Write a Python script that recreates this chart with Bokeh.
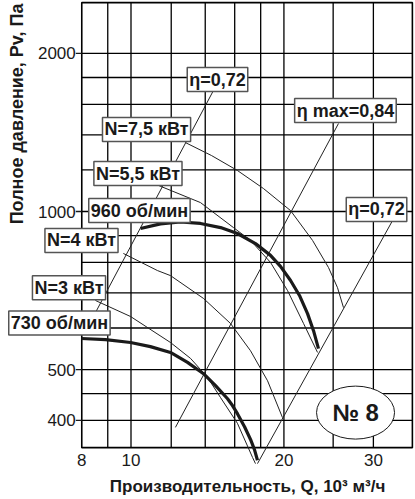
import math
from bokeh.plotting import figure
from bokeh.models import Range1d, Label
from bokeh.core.properties import value
from bokeh.embed import file_html
from bokeh.resources import INLINE

FONT = "Liberation Sans"
INK = "#1a1a1a"

# ---------------- data ----------------
x_ticks = [8, 10, 20, 30]
y_ticks = [400, 500, 1000, 2000]
x_grid = [9, 10, 12, 14, 16, 18, 20, 25, 30]
y_grid = [400, 450, 500, 600, 700, 800, 900, 1000, 1200, 1400, 1600, 1800, 2000]
Q_MIN, Q_MAX = 8, 35.8
P_MIN, P_MAX = 355, 2500

# pressure curves (thick), Q in 10^3 m3/h, P in Pa
q_960 = [10.44, 11.43, 12.51, 13.70, 15.01, 16.20, 17.58, 18.82, 19.69, 20.61,
         21.46, 22.26, 22.87, 23.39]
p_960 = [928, 947, 955, 949, 932, 908, 869, 825, 786, 739, 692, 639, 593, 548]
q_730 = [7.99, 8.91, 9.98, 10.92, 11.96, 12.92, 13.89, 14.67, 15.49, 15.84,
         16.20, 16.73, 17.19, 17.50, 17.74]
p_730 = [573, 570, 563, 553, 539, 516, 491, 466, 440, 427, 412, 389, 368, 352, 336]

# power curves (thin)
q_n75 = [12.80, 14.41, 16.20, 18.23, 20.61, 22.77, 24.48, 25.50, 26.20]
p_n75 = [1353, 1278, 1197, 1106, 1004, 881, 782, 716, 656]
q_n55 = [11.33, 13.70, 15.91, 17.19, 18.82, 20.33, 21.86, 23.29]
p_n55 = [1121, 1040, 932, 881, 800, 707, 612, 539]
q_n4 = [9.66, 11.27, 11.96, 13.89, 15.70, 17.19, 18.57, 19.87]
p_n4 = [832, 772, 755, 683, 612, 543, 476, 405]
q_n3 = [8.51, 9.98, 11.96, 13.10, 14.15, 15.01, 16.20, 17.35, 17.58]
p_n3 = [677, 631, 563, 525, 483, 442, 395, 340, 331]

# efficiency lines
q_eta_left = [8.21, 14.53]
p_eta_left = [601, 1700]
q_eta_max = [12.23, 25.61]
p_eta_max = [388, 1471]
q_eta_right = [17.74, 32.72]
p_eta_right = [331, 961]

label_texts = ["η=0,72", "η max=0,84", "η=0,72", "N=7,5 кВт", "N=5,5 кВт",
               "960 об/мин", "N=4 кВт", "N=3 кВт", "730 об/мин"]
y_title = "Полное давление, Pv, Па"
x_title = "Производительность, Q, 10³ м³/ч"
badge = "№ 8"

# ---------------- figure ----------------
p = figure(width=415, height=499, x_axis_type="log", y_axis_type="log",
           x_axis_location=None, y_axis_location=None,
           x_range=Range1d(5.535, 36.31), y_range=Range1d(282.8, 2523),
           output_backend="svg", toolbar_location=None,
           min_border=0)
p.outline_line_color = None
p.xgrid.visible = False
p.ygrid.visible = False
p.background_fill_color = "white"
p.border_fill_color = "white"

# grid
p.segment(x0=x_grid, y0=[P_MIN] * len(x_grid), x1=x_grid, y1=[P_MAX] * len(x_grid),
          line_color="#000000", line_width=1.3)
p.segment(x0=[Q_MIN] * len(y_grid), y0=y_grid, x1=[Q_MAX] * len(y_grid), y1=y_grid,
          line_color="#000000", line_width=1.3)
# frame
p.quad(left=[Q_MIN], right=[Q_MAX], bottom=[P_MIN], top=[P_MAX],
       fill_color=None, line_color="#000000", line_width=1.6)

# y ticks and tick labels
p.ray(x=[Q_MIN] * len(y_ticks), y=y_ticks, length=6, length_units="screen",
      angle=math.pi, line_color=INK, line_width=1.3)
p.text(x=[Q_MIN] * len(y_ticks), y=y_ticks, text=[str(t) for t in y_ticks],
       x_offset=-6, text_align="right", text_baseline="middle",
       text_font=value(FONT), text_font_size=value("17px"), text_color=INK)
# x tick labels
p.text(x=x_ticks, y=[P_MIN] * len(x_ticks), text=[str(t) for t in x_ticks],
       y_offset=6, text_align="center", text_baseline="top",
       text_font=value(FONT), text_font_size=value("17px"), text_color=INK)

thin = dict(line_color="#222222", line_width=1)
for qs, ps in [(q_n75, p_n75), (q_n55, p_n55), (q_n4, p_n4), (q_n3, p_n3),
               (q_eta_left, p_eta_left), (q_eta_max, p_eta_max),
               (q_eta_right, p_eta_right)]:
    p.line(qs, ps, **thin)

p.line(q_960, p_960, line_color=INK, line_width=3.2, line_join="round")
p.line(q_730, p_730, line_color=INK, line_width=3.2, line_join="round")

p.ellipse(x=[27.67], y=[414], width=78, height=53, width_units="screen",
          height_units="screen", fill_color="white", line_color=INK,
          line_width=1)

label_pos = [(14.80, 1784), (26.43, 1557), (30.43, 1009), (10.73, 1433),
             (10.32, 1181), (10.39, 1004), (7.99, 881), (7.55, 716), (7.23, 613)]
for txt, (lx, ly) in zip(label_texts, label_pos):
    p.add_layout(Label(x=lx, y=ly, text=txt, text_align="center",
                       text_baseline="middle", text_font=FONT,
                       text_font_style="bold", text_font_size="18px",
                       text_color=INK, background_fill_color="white",
                       border_line_color="#555555", border_line_width=1.5,
                       padding=2))

p.add_layout(Label(x=27.67, y=414, text=badge, text_align="center",
                   text_baseline="middle", text_font=FONT,
                   text_font_style="bold", text_font_size="24px",
                   text_color=INK))

p.add_layout(Label(x=5.978, y=2490, text=y_title, angle=math.pi / 2,
                   text_align="right", text_baseline="middle", text_font=FONT,
                   text_font_style="bold", text_font_size="18px",
                   text_color=INK))
p.add_layout(Label(x=16.96, y=299.3, text=x_title, text_align="center",
                   text_baseline="middle", text_font=FONT,
                   text_font_style="bold", text_font_size="17px",
                   text_color=INK))

open("out.html", "w").write(file_html(p, INLINE))
